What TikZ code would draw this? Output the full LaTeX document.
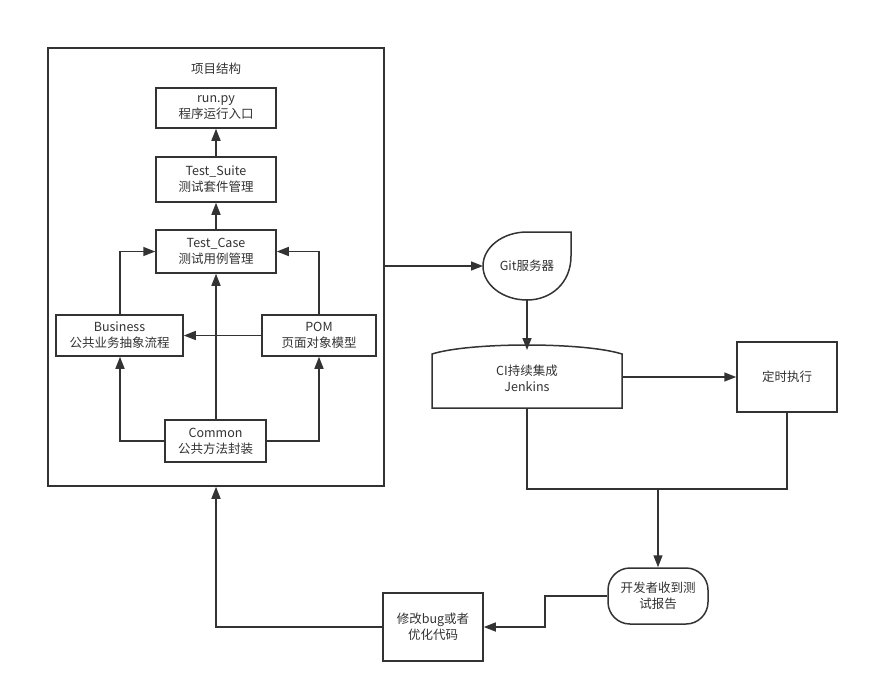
\documentclass[tikz,border=0pt]{standalone}
\usepackage{fontspec}
\setmainfont{Noto Sans CJK SC}
\usetikzlibrary{arrows.meta,positioning}
\definecolor{ln}{HTML}{333333}
\tikzset{
  box/.style={draw=ln,line width=1.5pt,fill=white,align=center,inner sep=0pt},
  conn/.style={draw=ln,line width=1.5pt,-{Triangle[length=12pt,width=9pt]}},
  plain/.style={draw=ln,line width=1.5pt},
  txt/.style={align=center,font=\fontsize{12.5}{16}\selectfont,text=ln}
}
\begin{document}
\begin{tikzpicture}[x=1pt,y=-1pt,every node/.style={txt}]
\useasboundingbox (0,0) rectangle (869,694);
% outer frame
\node[box,minimum width=336pt,minimum height=438pt] (frame) at (216,267) {};
\node (title) at (216,69) {项目结构};
\node[box,minimum width=120pt,minimum height=40pt] (run) at (216,108) {run.py\\程序运行入口};
\node[box,minimum width=120pt,minimum height=45pt] (suite) at (216,179.5) {Test\_Suite\\测试套件管理};
\node[box,minimum width=120pt,minimum height=43pt] (case) at (216,251.5) {Test\_Case\\测试用例管理};
\node[box,minimum width=127pt,minimum height=41pt] (bus) at (119.5,335.5) {Business\\公共业务抽象流程};
\node[box,minimum width=114pt,minimum height=41pt] (pom) at (319,335.5) {POM\\页面对象模型};
\node[box,minimum width=101pt,minimum height=42pt] (common) at (215.5,441) {Common\\公共方法封装};

\draw[conn] (suite.north) -- (run.south);
\draw[conn] (case.north) -- (suite.south);
\draw[conn] (bus.north -| 120,0) |- (case.west);
\draw[conn] (pom.north -| 319,0) |- (case.east);
\draw[conn] (pom.west) -- (bus.east);
\draw[conn] (common.north -| case.south) -- (case.south);
\draw[conn] (common.west) -| (bus.south -| 120,0);
\draw[conn] (common.east) -| (pom.south -| 319,0);

% Git server
\coordinate (gitc) at (527,266);
\draw[plain,fill=white] (527,232) -- (571,232) -- (571,256)
  .. controls (571,283) and (551,300) .. (527,300)
  .. controls (503,300) and (483,285) .. (483,266)
  .. controls (483,247) and (503,232) .. (527,232) -- cycle;
\node (git) at (527,266) {Git服务器};
\coordinate (gitw) at (483,266);
\coordinate (gits) at (527,300);
\draw[conn] (frame.east |- gitw) -- (gitw);

% CI
\draw[plain,fill=white] (432,354) .. controls (470,342) and (584,342) .. (622,354) -- (622,408) -- (432,408) -- cycle;
\node (ci) at (527,378) {CI持续集成\\Jenkins};
\coordinate (cin) at (527,350);
\coordinate (cie) at (622,377);
\coordinate (cis) at (527,408);
\draw[conn] (gits) -- (cin);

\node[box,minimum width=100pt,minimum height=70pt] (timer) at (787,377) {定时执行};
\draw[conn] (cie) -- (timer.west);

\node[box,rounded corners=22pt,minimum width=100pt,minimum height=56pt] (dev) at (658,596) {开发者收到测\\试报告};
\coordinate (join) at (658,489);
\draw[plain] (cis) |- (join);
\draw[plain] (timer.south) |- (join);
\draw[conn] (join) -- (dev.north);

\node[box,minimum width=100pt,minimum height=68pt] (fix) at (433,627) {修改bug或者\\优化代码};
\coordinate (bend) at (545,596);
\draw[conn] (dev.west) -- (bend) |- (fix.east);
\draw[conn] (fix.west) -| (frame.south -| 216,0);
\end{tikzpicture}
\end{document}
